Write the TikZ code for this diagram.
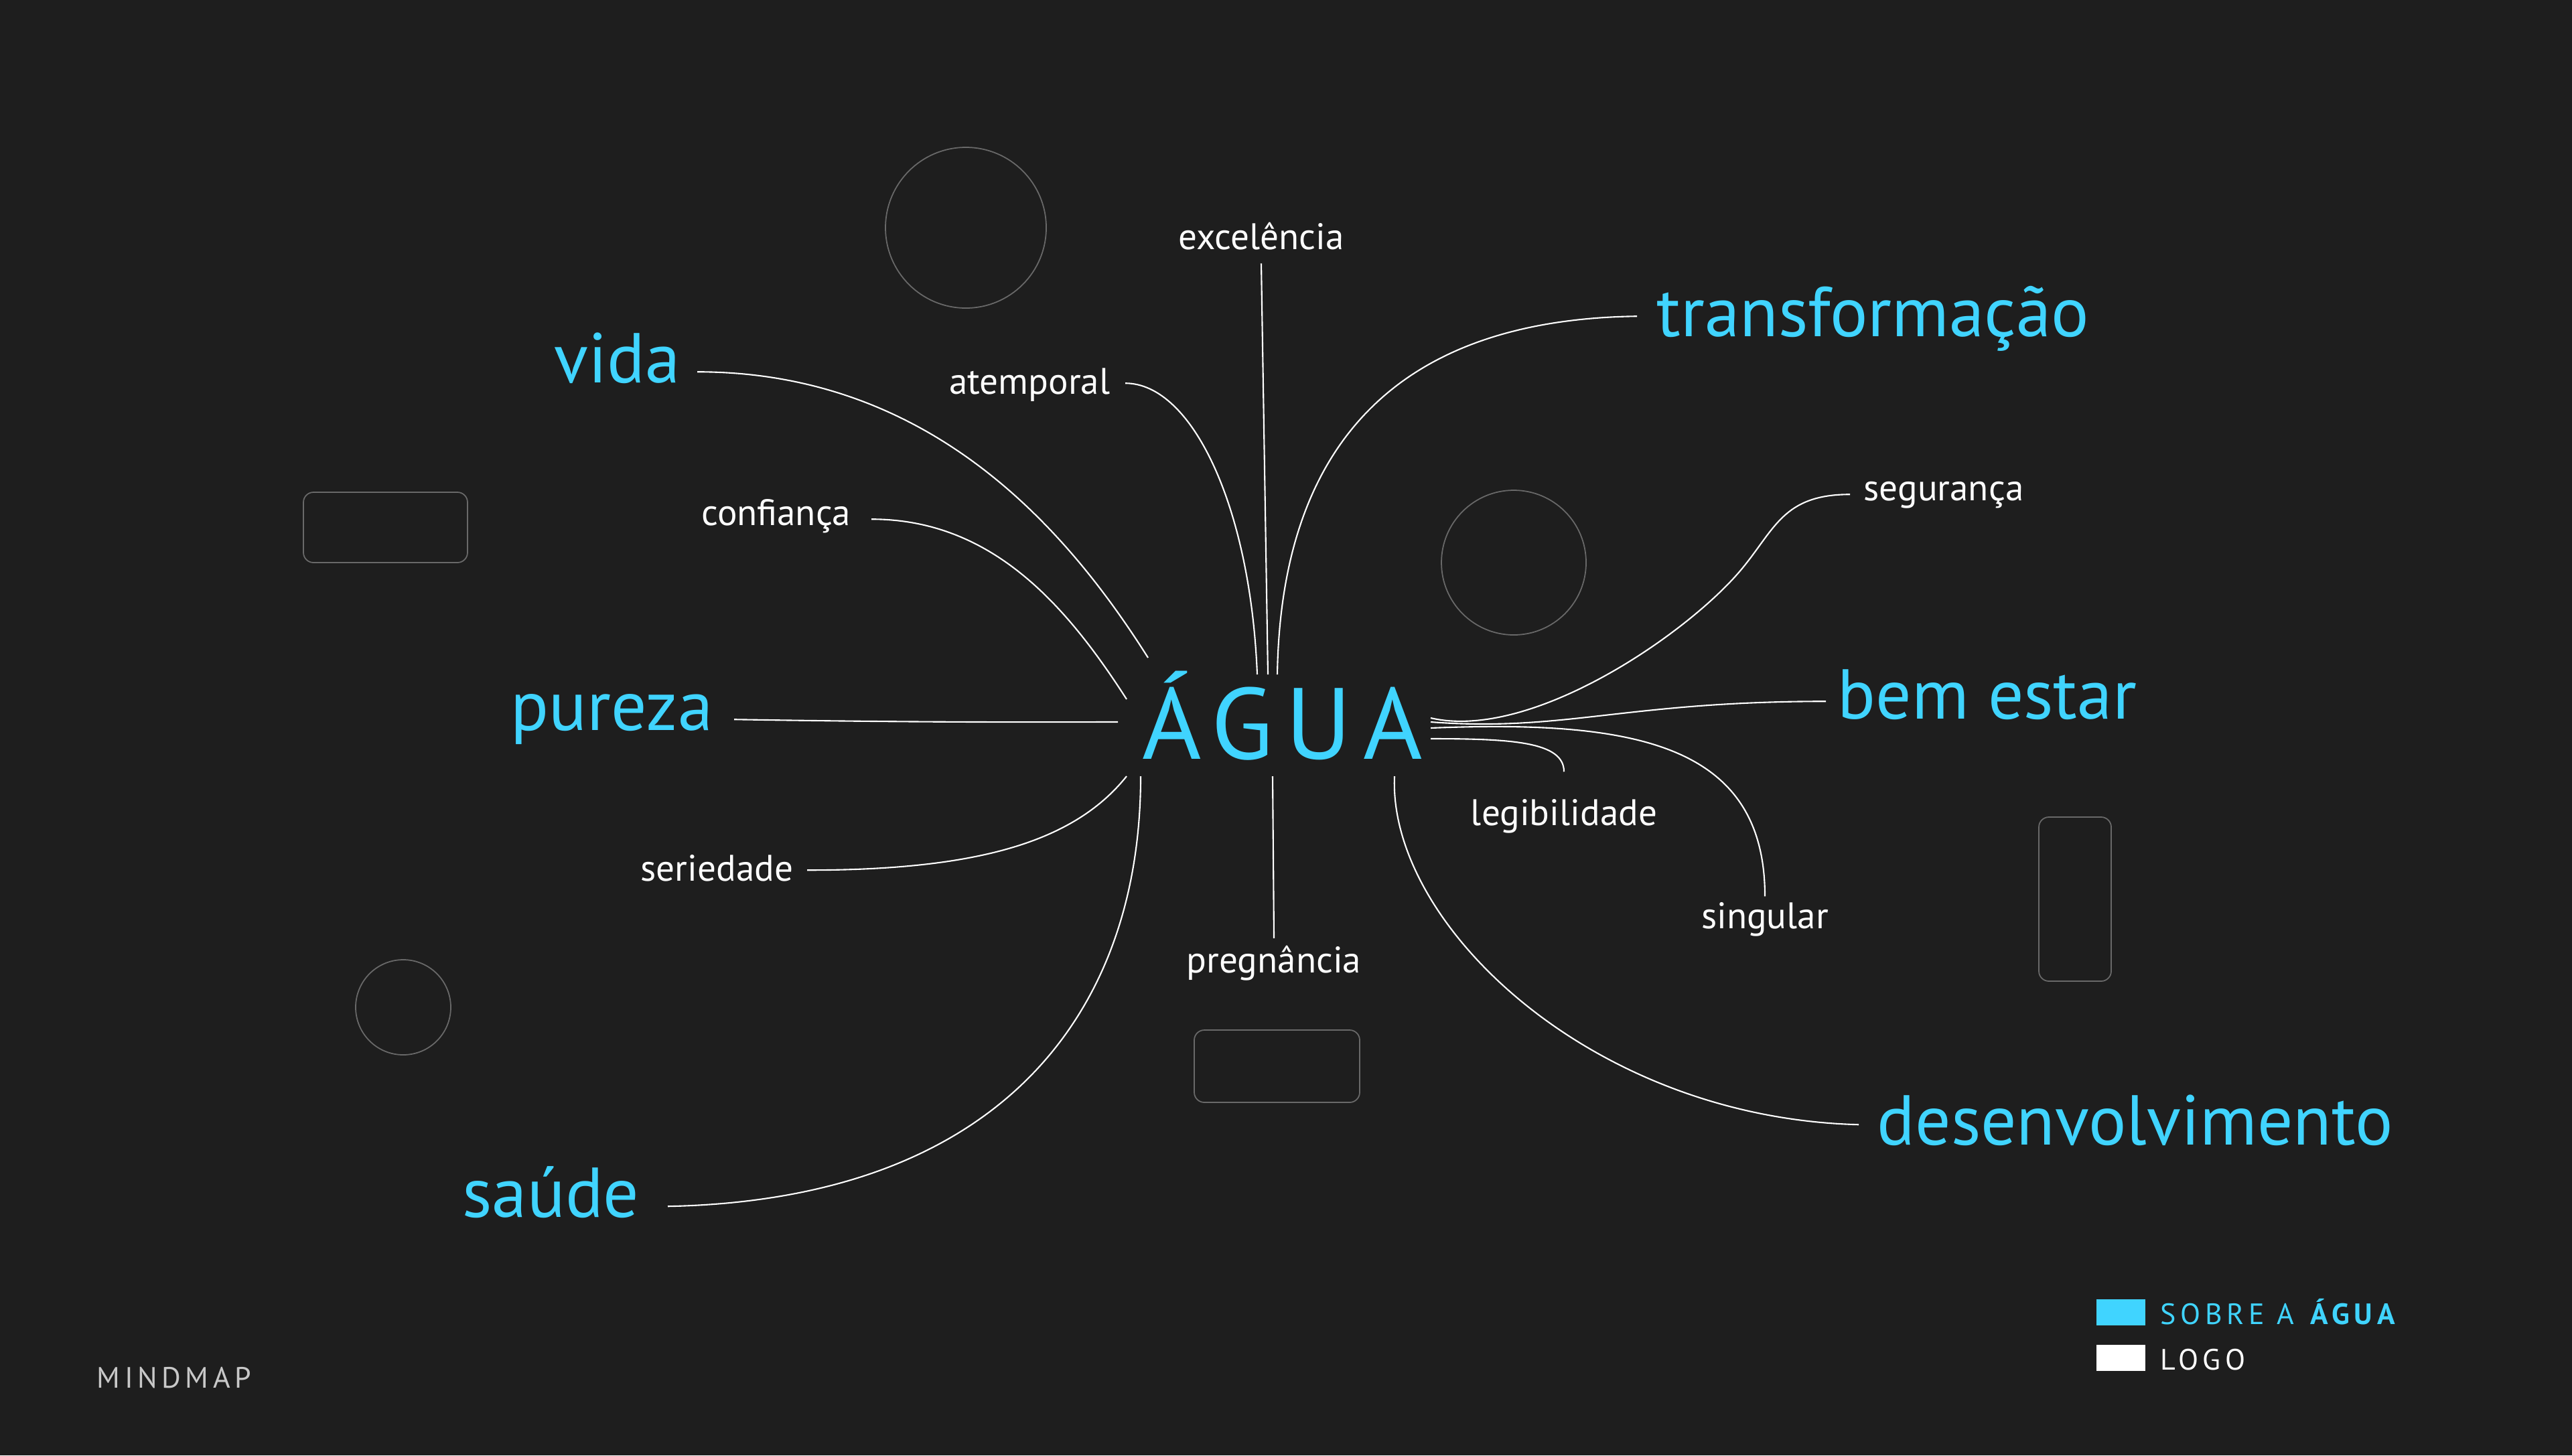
\documentclass[tikz,border=0pt]{standalone}
\usepackage{fontspec}
\setmainfont{PT Sans}
\usetikzlibrary{positioning}
\definecolor{bg}{RGB}{30,30,30}
\definecolor{aqua}{RGB}{64,212,255}
\definecolor{ghost}{RGB}{105,105,105}
\definecolor{mist}{RGB}{200,200,200}

\begin{document}
\begin{tikzpicture}[
    big/.style={text=aqua, inner sep=0pt, font=\fontsize{30}{33}\selectfont},
    small/.style={text=white, inner sep=0pt, font=\fontsize{15.7}{18}\selectfont},
    link/.style={draw=white, line width=0.6pt},
    ghostshape/.style={draw=ghost, line width=0.5pt},
    legendtext/.style={inner sep=0pt, anchor=west, font=\fontsize{12.5}{14}\selectfont\addfontfeatures{LetterSpace=15}}]

    % background
    \fill[bg] (0,0) rectangle (38.4,-21.73);
    \useasboundingbox (0,0) rectangle (38.4,-21.73);

    % empty placeholder shapes
    \draw[ghostshape] (14.42,-3.40) circle (1.20);
    \draw[ghostshape] (22.60,-8.40) circle (1.08);
    \draw[ghostshape] (6.02,-15.04) circle (0.71);
    \draw[ghostshape, rounded corners=0.15cm] (4.53,-7.35) rectangle (6.98,-8.40);
    \draw[ghostshape, rounded corners=0.15cm] (17.83,-15.38) rectangle (20.30,-16.46);
    \draw[ghostshape, rounded corners=0.15cm] (30.44,-12.20) rectangle (31.52,-14.65);

    % centre
    \node[text=aqua, inner sep=0pt, anchor=base, font=\fontsize{43}{48}\selectfont\addfontfeatures{LetterSpace=12}] (agua) at (19.15,-11.33) {ÁGUA};

    % main branches
    \node[big, anchor=base east] (vida) at (10.16,-5.71) {vida};
    \node[big, anchor=base east] (pureza) at (10.65,-10.90) {pureza};
    \node[big, anchor=base east] (saude) at (9.55,-18.17) {saúde};
    \node[big, anchor=base west] (transf) at (24.73,-5.02) {transformação};
    \node[big, anchor=base west] (bemestar) at (27.43,-10.73) {bem estar};
    \node[big, anchor=base west] (desenv) at (28.02,-17.09) {desenvolvimento};

    % secondary branches
    \node[small, anchor=base] (excel) at (18.83,-3.72) {excelência};
    \node[small, anchor=base east] (atemp) at (16.58,-5.88) {atemporal};
    \node[small, anchor=base east] (confi) at (12.71,-7.84) {confiança};
    \node[small, anchor=base east] (serie) at (11.85,-13.15) {seriedade};
    \node[small, anchor=base] (pregn) at (19.02,-14.52) {pregnância};
    \node[small, anchor=base] (legib) at (23.35,-12.32) {legibilidade};
    \node[small, anchor=base] (singu) at (26.35,-13.86) {singular};
    \node[small, anchor=base west] (segur) at (27.82,-7.47) {segurança};

    % where the links meet the centre
    \coordinate (in-vida) at (17.14,-9.82);
    \coordinate (in-confi) at (16.82,-10.44);
    \coordinate (in-atemp) at (18.77,-10.07);
    \coordinate (in-excel) at (18.93,-10.07);
    \coordinate (in-transf) at (19.07,-10.07);
    \coordinate (in-pureza) at (16.69,-10.78);
    \coordinate (in-serie) at (16.82,-11.59);
    \coordinate (in-saude) at (17.03,-11.59);
    \coordinate (in-pregn) at (19.00,-11.59);
    \coordinate (in-desenv) at (20.82,-11.59);
    \coordinate (in-segur) at (21.36,-10.72);
    \coordinate (in-bem) at (21.36,-10.78);
    \coordinate (in-singu) at (21.36,-10.87);
    \coordinate (in-legib) at (21.36,-11.03);
    \coordinate (bend-segur) at (26.00,-8.50);

    % links
    \draw[link] ([xshift=0.25cm, yshift=0.07cm]vida.mid east) .. controls +(3.5,0) and +(-1.2,1.9) .. (in-vida);
    \draw[link] ([xshift=0.30cm]confi.mid east) .. controls +(1.8,0) and +(-0.9,1.4) .. (in-confi);
    \draw[link] ([xshift=0.22cm, yshift=0.07cm]atemp.mid east) .. controls +(1.0,0) and +(-0.1,2.5) .. (in-atemp);
    \draw[link] ([yshift=-0.2cm]excel.south) -- (in-excel);
    \draw[link] ([xshift=-0.29cm, yshift=0.21cm]transf.mid west) .. controls +(-3.8,-0.05) and +(0.05,3.2) .. (in-transf);
    \draw[link] ([xshift=0.31cm, yshift=0.07cm]pureza.mid east) .. controls +(3,-0.05) and +(-1,0) .. (in-pureza);
    \draw[link] ([xshift=0.20cm, yshift=0.07cm]serie.mid east) .. controls +(2.5,0) and +(-0.8,-1.0) .. (in-serie);
    \draw[link] ([xshift=0.42cm, yshift=0.07cm]saude.mid east) .. controls +(5,0.1) and +(0,-3.5) .. (in-saude);
    \draw[link] (in-pregn) -- ([yshift=0.1cm]pregn.north);
    \draw[link] ([xshift=-0.27cm, yshift=0.21cm]desenv.mid west) .. controls +(-4,0.1) and +(-0.1,-2.2) .. (in-desenv);
    \draw[link] ([xshift=-0.20cm]segur.mid west) .. controls +(-1.0,0) and +(0.5,0.6) .. (bend-segur)
        .. controls +(-0.8,-0.96) and +(1.5,-0.35) .. (in-segur);
    \draw[link] ([xshift=-0.17cm, yshift=0.17cm]bemestar.mid west) .. controls +(-3,0) and +(2,-0.15) .. (in-bem);
    \draw[link] ([yshift=0.08cm]singu.north) .. controls +(0,2.3) and +(3.0,0.12) .. (in-singu);
    \draw[link] ([yshift=0.4cm]legib.north) .. controls +(0,0.45) and +(1.2,0) .. (in-legib);

    % legend
    \fill[aqua] (31.30,-19.40) rectangle (32.03,-19.79);
    \fill[white] (31.30,-20.08) rectangle (32.03,-20.47);
    \node[legendtext, text=aqua] (about) at (32.25,-19.59) {SOBRE A \textbf{ÁGUA}};
    \node[legendtext, text=white] (logo) at (32.25,-20.30) {LOGO};
    \node[legendtext, text=mist] (title) at (1.44,-20.57) {MINDMAP};
\end{tikzpicture}
\end{document}
